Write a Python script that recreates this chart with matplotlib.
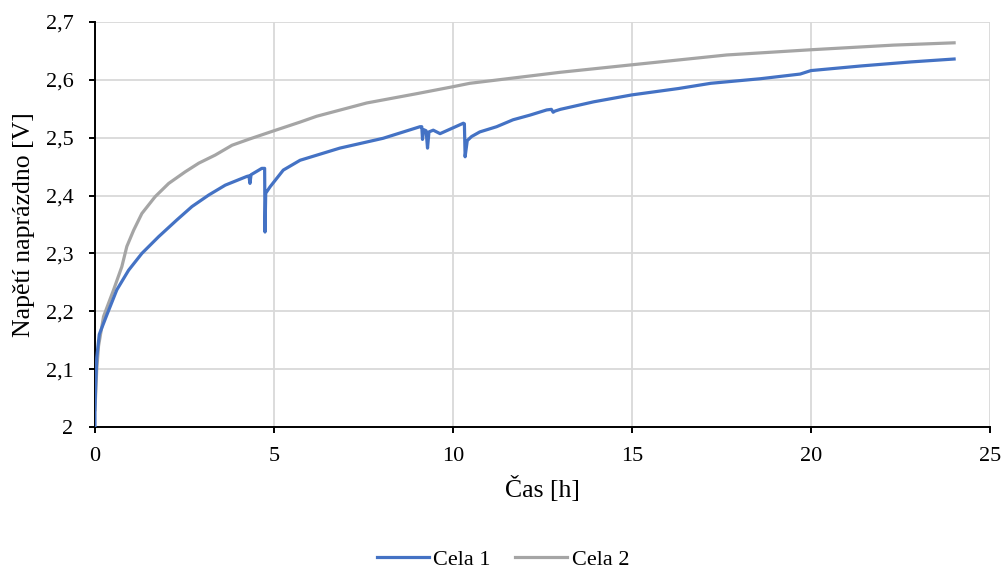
import numpy as np
import matplotlib.pyplot as plt
from matplotlib.ticker import FuncFormatter

# Cela 1 (blue) - time [h], voltage [V]
t_cela1 = [0.0, 0.0, 0.02, 0.05, 0.12, 0.34, 0.61, 0.94, 1.31, 1.78, 2.29,
           2.71, 3.18, 3.64, 4.24, 4.30, 4.33, 4.36, 4.66, 4.74, 4.75, 4.77,
           4.89, 5.26, 5.73, 6.84, 8.05, 9.08, 9.13, 9.15, 9.18, 9.25, 9.29,
           9.33, 9.45, 9.64, 10.29, 10.32, 10.34, 10.40, 10.52, 10.75, 11.22,
           11.68, 12.15, 12.62, 12.75, 12.80, 12.85, 13.0, 13.93, 15.0, 16.3,
           17.2, 18.6, 19.7, 20.0, 21.4, 22.8, 24.0]
u_cela1 = [2.000, 2.030, 2.075, 2.120, 2.160, 2.195, 2.237, 2.271, 2.300, 2.329,
           2.358, 2.381, 2.401, 2.418, 2.433, 2.434, 2.421, 2.436, 2.447, 2.447,
           2.337, 2.404, 2.415, 2.444, 2.461, 2.482, 2.499, 2.519, 2.519, 2.497,
           2.514, 2.512, 2.482, 2.510, 2.513, 2.507, 2.525, 2.524, 2.467, 2.495,
           2.502, 2.510, 2.519, 2.531, 2.539, 2.548, 2.549, 2.544, 2.546, 2.549,
           2.562, 2.574, 2.585, 2.594, 2.602, 2.610, 2.616, 2.624, 2.631, 2.636]

# Cela 2 (grey)
t_cela2 = [0.0, 0.05, 0.10, 0.24, 0.52, 0.75, 0.89, 1.08, 1.31, 1.68, 2.06,
           2.52, 2.90, 3.36, 3.83, 4.33, 5.0, 5.73, 6.19, 7.59, 8.98, 9.99,
           10.47, 12.99, 15.0, 17.65, 20.0, 22.3, 24.0]
u_cela2 = [2.030, 2.100, 2.140, 2.191, 2.237, 2.277, 2.312, 2.340, 2.369, 2.398,
           2.421, 2.441, 2.456, 2.470, 2.487, 2.498, 2.512, 2.527, 2.537, 2.560,
           2.576, 2.588, 2.594, 2.613, 2.626, 2.643, 2.652, 2.660, 2.664]

x_ticks = [0, 5, 10, 15, 20, 25]
y_ticks = [2.0, 2.1, 2.2, 2.3, 2.4, 2.5, 2.6, 2.7]

plt.rcParams['font.family'] = ['Liberation Serif', 'DejaVu Serif']

fig = plt.figure(figsize=(10.06, 5.71), dpi=100)
ax = fig.add_axes([0.0944, 0.2522, 0.8896, 0.7093])

ax.plot(t_cela1, u_cela1, color='#4472C4', lw=2.3, label='Cela 1', zorder=3)
ax.plot(t_cela2, u_cela2, color='#A5A5A5', lw=2.3, label='Cela 2', zorder=2)

ax.set_xlim(0, 25)
ax.set_ylim(2.0, 2.7)
ax.set_xticks(x_ticks)
ax.set_yticks(y_ticks)
ax.yaxis.set_major_formatter(FuncFormatter(lambda v, p: f"{v:g}".replace('.', ',')))
ax.grid(True, color='#D9D9D9', lw=1.3, zorder=0)
ax.set_axisbelow(True)
for s in ['top', 'right']:
    ax.spines[s].set_visible(False)
for s in ['left', 'bottom']:
    ax.spines[s].set_linewidth(1.4)
    ax.spines[s].set_color('black')
ax.tick_params(direction='out', length=4.5, width=1.4, labelsize=16)
ax.tick_params(axis='y', pad=11)
ax.tick_params(axis='x', pad=10)

ax.set_xlabel('Čas [h]', fontsize=18.5, labelpad=7)
ax.set_ylabel('Napětí naprázdno [V]', fontsize=18.5, labelpad=7.7)

fig.legend(loc='center', bbox_to_anchor=(0.5, 0.02), ncol=2, frameon=False,
           fontsize=16, handlelength=2.35, handletextpad=0.2, columnspacing=1.1)

fig.savefig('out.png', dpi=100)
